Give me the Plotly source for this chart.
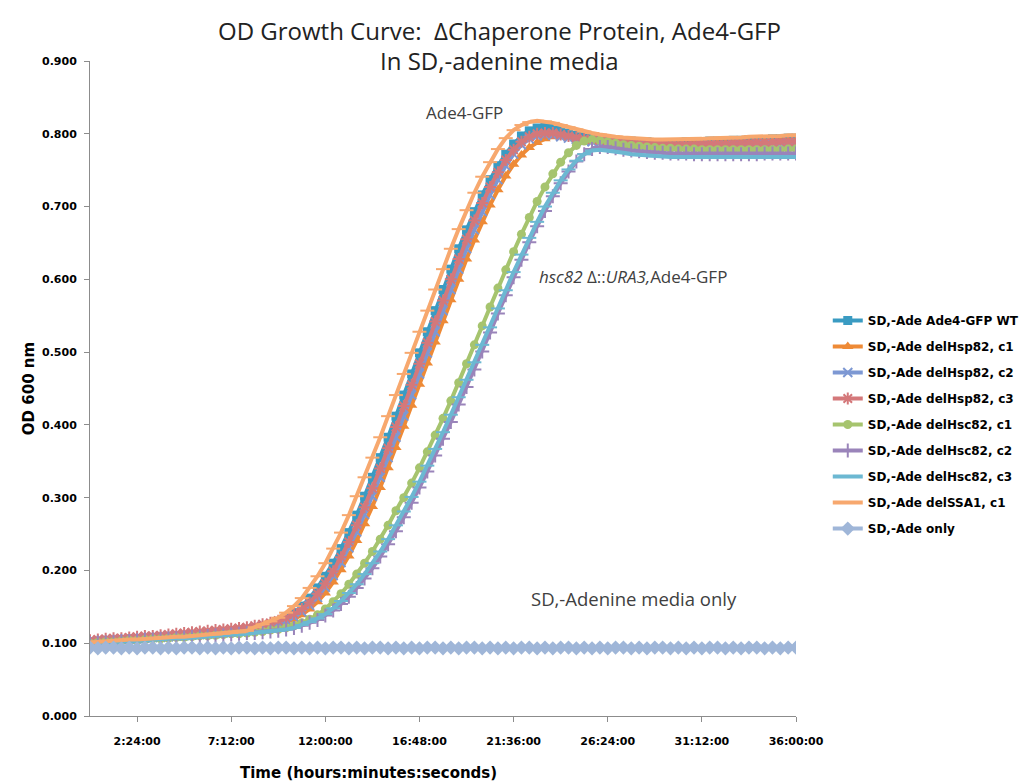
import plotly.graph_objects as go

# Sampling grid: one OD reading every 24 minutes over 36 hours
time_h = [round(0.4 * i, 1) for i in range(91)]

tick_hours = [2.4, 7.2, 12.0, 16.8, 21.6, 26.4, 31.2, 36.0]
tick_text = ["2:24:00", "7:12:00", "12:00:00", "16:48:00",
             "21:36:00", "26:24:00", "31:12:00", "36:00:00"]

od_wt = [0.102, 0.103, 0.104, 0.104, 0.105, 0.106, 0.106, 0.107, 0.108, 0.108, 0.109,
         0.110, 0.110, 0.111, 0.112, 0.113, 0.113, 0.114, 0.115, 0.116, 0.117,
         0.120, 0.123, 0.126, 0.130, 0.135, 0.142, 0.151, 0.162, 0.176, 0.192,
         0.210, 0.230, 0.252, 0.276, 0.302, 0.328, 0.355, 0.383, 0.412, 0.441,
         0.470, 0.499, 0.528, 0.557, 0.586, 0.614, 0.642, 0.668, 0.693, 0.716,
         0.737, 0.756, 0.772, 0.786, 0.797, 0.804, 0.808, 0.810, 0.808, 0.805,
         0.801, 0.798, 0.796, 0.794, 0.793, 0.792, 0.791, 0.790, 0.790, 0.789,
         0.789, 0.788, 0.788, 0.788, 0.788, 0.789, 0.789, 0.789, 0.790, 0.790,
         0.790, 0.791, 0.791, 0.792, 0.792, 0.792, 0.793, 0.793, 0.794, 0.794]

od_hsp82_c1 = [0.103, 0.104, 0.105, 0.105, 0.106, 0.107, 0.107, 0.108, 0.109, 0.110, 0.110,
               0.111, 0.112, 0.113, 0.114, 0.115, 0.116, 0.117, 0.118, 0.119, 0.120,
               0.121, 0.122, 0.124, 0.126, 0.129, 0.133, 0.139, 0.147, 0.157, 0.169,
               0.184, 0.201, 0.220, 0.241, 0.264, 0.288, 0.314, 0.341, 0.369, 0.398,
               0.427, 0.456, 0.485, 0.514, 0.543, 0.572, 0.600, 0.628, 0.654, 0.679,
               0.702, 0.723, 0.742, 0.758, 0.771, 0.781, 0.788, 0.793, 0.796, 0.796,
               0.795, 0.793, 0.791, 0.790, 0.789, 0.788, 0.787, 0.787, 0.786, 0.786,
               0.786, 0.785, 0.785, 0.785, 0.785, 0.785, 0.786, 0.786, 0.786, 0.787,
               0.787, 0.787, 0.788, 0.788, 0.788, 0.789, 0.789, 0.790, 0.790, 0.790]

od_hsp82_c2 = [0.102, 0.103, 0.104, 0.104, 0.105, 0.106, 0.106, 0.107, 0.108, 0.108, 0.109,
               0.110, 0.111, 0.112, 0.112, 0.113, 0.114, 0.115, 0.116, 0.117, 0.118,
               0.120, 0.122, 0.124, 0.127, 0.131, 0.136, 0.143, 0.152, 0.163, 0.177,
               0.193, 0.211, 0.231, 0.253, 0.277, 0.302, 0.328, 0.355, 0.383, 0.412,
               0.441, 0.470, 0.499, 0.528, 0.557, 0.586, 0.614, 0.642, 0.668, 0.693,
               0.716, 0.737, 0.756, 0.772, 0.785, 0.793, 0.797, 0.799, 0.798, 0.796,
               0.794, 0.792, 0.790, 0.789, 0.788, 0.787, 0.786, 0.785, 0.785, 0.784,
               0.784, 0.784, 0.783, 0.783, 0.783, 0.783, 0.784, 0.784, 0.784, 0.784,
               0.785, 0.785, 0.785, 0.786, 0.786, 0.786, 0.787, 0.787, 0.787, 0.788]

od_hsp82_c3 = [0.104, 0.105, 0.106, 0.107, 0.107, 0.108, 0.109, 0.110, 0.110, 0.111, 0.112,
               0.113, 0.114, 0.115, 0.116, 0.117, 0.118, 0.119, 0.120, 0.121, 0.122,
               0.124, 0.126, 0.128, 0.131, 0.135, 0.140, 0.147, 0.156, 0.168, 0.182,
               0.199, 0.218, 0.239, 0.262, 0.287, 0.313, 0.340, 0.368, 0.397, 0.426,
               0.455, 0.484, 0.513, 0.542, 0.571, 0.600, 0.628, 0.655, 0.681, 0.705,
               0.727, 0.747, 0.764, 0.778, 0.789, 0.796, 0.800, 0.801, 0.801, 0.799,
               0.797, 0.795, 0.793, 0.792, 0.791, 0.790, 0.789, 0.788, 0.787, 0.787,
               0.786, 0.786, 0.786, 0.785, 0.785, 0.785, 0.785, 0.786, 0.786, 0.786,
               0.786, 0.787, 0.787, 0.787, 0.788, 0.788, 0.788, 0.789, 0.789, 0.789]

od_hsc82_c1 = [0.100, 0.101, 0.102, 0.102, 0.103, 0.104, 0.104, 0.105, 0.106, 0.106, 0.107,
               0.108, 0.108, 0.109, 0.110, 0.110, 0.111, 0.112, 0.113, 0.113, 0.114,
               0.115, 0.116, 0.118, 0.119, 0.121, 0.124, 0.128, 0.133, 0.139, 0.147,
               0.157, 0.168, 0.181, 0.195, 0.210, 0.226, 0.243, 0.262, 0.282, 0.300,
               0.320, 0.341, 0.363, 0.386, 0.409, 0.433, 0.458, 0.484, 0.510, 0.536,
               0.562, 0.588, 0.613, 0.638, 0.662, 0.685, 0.707, 0.727, 0.745, 0.761,
               0.774, 0.784, 0.790, 0.792, 0.791, 0.789, 0.787, 0.785, 0.784, 0.783,
               0.782, 0.781, 0.780, 0.780, 0.779, 0.779, 0.779, 0.778, 0.778, 0.778,
               0.778, 0.778, 0.778, 0.778, 0.778, 0.778, 0.778, 0.778, 0.779, 0.779]

od_hsc82_c2 = [0.100, 0.101, 0.101, 0.102, 0.103, 0.103, 0.104, 0.105, 0.105, 0.106, 0.107,
               0.107, 0.108, 0.109, 0.109, 0.110, 0.111, 0.111, 0.112, 0.113, 0.114,
               0.114, 0.115, 0.116, 0.117, 0.119, 0.121, 0.124, 0.128, 0.132, 0.138,
               0.145, 0.154, 0.164, 0.176, 0.189, 0.203, 0.219, 0.236, 0.254, 0.273,
               0.293, 0.314, 0.336, 0.358, 0.381, 0.404, 0.428, 0.452, 0.476, 0.501,
               0.527, 0.553, 0.578, 0.603, 0.627, 0.651, 0.673, 0.694, 0.714, 0.732,
               0.748, 0.762, 0.772, 0.779, 0.782, 0.782, 0.780, 0.778, 0.777, 0.776,
               0.775, 0.774, 0.774, 0.773, 0.773, 0.773, 0.772, 0.772, 0.772, 0.772,
               0.772, 0.772, 0.772, 0.772, 0.772, 0.773, 0.773, 0.773, 0.773, 0.773]

od_hsc82_c3 = [0.099, 0.100, 0.101, 0.101, 0.102, 0.103, 0.103, 0.104, 0.105, 0.105, 0.106,
               0.107, 0.107, 0.108, 0.109, 0.109, 0.110, 0.111, 0.112, 0.112, 0.113,
               0.114, 0.115, 0.116, 0.117, 0.119, 0.121, 0.125, 0.129, 0.134, 0.140,
               0.148, 0.158, 0.169, 0.181, 0.195, 0.210, 0.226, 0.243, 0.262, 0.281,
               0.301, 0.322, 0.344, 0.367, 0.390, 0.414, 0.438, 0.462, 0.486, 0.510,
               0.534, 0.560, 0.585, 0.610, 0.634, 0.657, 0.679, 0.700, 0.719, 0.736,
               0.751, 0.763, 0.772, 0.777, 0.778, 0.777, 0.775, 0.774, 0.772, 0.771,
               0.770, 0.769, 0.769, 0.768, 0.768, 0.768, 0.767, 0.767, 0.767, 0.767,
               0.767, 0.767, 0.767, 0.767, 0.767, 0.768, 0.768, 0.768, 0.768, 0.768]

od_ssa1_c1 = [0.101, 0.102, 0.103, 0.103, 0.104, 0.105, 0.105, 0.106, 0.107, 0.107, 0.108,
              0.109, 0.109, 0.110, 0.111, 0.112, 0.112, 0.113, 0.114, 0.115, 0.117,
              0.122, 0.126, 0.130, 0.135, 0.142, 0.151, 0.162, 0.176, 0.192, 0.210,
              0.230, 0.252, 0.276, 0.302, 0.328, 0.355, 0.383, 0.412, 0.441, 0.470,
              0.499, 0.528, 0.557, 0.586, 0.614, 0.642, 0.669, 0.695, 0.719, 0.741,
              0.761, 0.779, 0.794, 0.805, 0.812, 0.816, 0.818, 0.817, 0.815, 0.812,
              0.809, 0.806, 0.803, 0.801, 0.799, 0.797, 0.796, 0.795, 0.794, 0.793,
              0.793, 0.792, 0.792, 0.792, 0.792, 0.793, 0.793, 0.793, 0.794, 0.794,
              0.795, 0.795, 0.795, 0.796, 0.796, 0.797, 0.797, 0.797, 0.798, 0.798]

od_media_only = [0.094, 0.093, 0.094, 0.094, 0.093, 0.094, 0.093, 0.094, 0.094, 0.093, 0.094,
                 0.093, 0.094, 0.094, 0.093, 0.094, 0.093, 0.094, 0.093, 0.094, 0.094,
                 0.093, 0.094, 0.093, 0.094, 0.094, 0.093, 0.094, 0.093, 0.094, 0.093,
                 0.094, 0.094, 0.093, 0.094, 0.093, 0.094, 0.094, 0.093, 0.094, 0.093,
                 0.094, 0.093, 0.094, 0.094, 0.093, 0.094, 0.093, 0.094, 0.094, 0.093,
                 0.094, 0.093, 0.094, 0.093, 0.094, 0.094, 0.093, 0.094, 0.093, 0.094,
                 0.094, 0.093, 0.094, 0.093, 0.094, 0.093, 0.094, 0.094, 0.093, 0.094,
                 0.093, 0.094, 0.094, 0.093, 0.094, 0.093, 0.094, 0.093, 0.094, 0.094,
                 0.093, 0.094, 0.093, 0.094, 0.094, 0.093, 0.094, 0.093, 0.094, 0.094]

# name, values, colour, marker symbol, marker size
series = [
    ("SD,-Ade Ade4-GFP WT", od_wt, "#3A9BC2", "square", 9),
    ("SD,-Ade delHsp82, c1", od_hsp82_c1, "#EE8A36", "triangle-up", 10),
    ("SD,-Ade delHsp82, c2", od_hsp82_c2, "#7D98D3", "x-thin-open", 9),
    ("SD,-Ade delHsp82, c3", od_hsp82_c3, "#D4787A", "asterisk-open", 10),
    ("SD,-Ade delHsc82, c1", od_hsc82_c1, "#A6C46E", "circle", 9),
    ("SD,-Ade delHsc82, c2", od_hsc82_c2, "#9A84BA", "cross-thin-open", 10),
    ("SD,-Ade delHsc82, c3", od_hsc82_c3, "#6CB8D2", "line-ew-open", 10),
    ("SD,-Ade delSSA1, c1", od_ssa1_c1, "#F7A86E", "line-ew-open", 10),
    ("SD,-Ade only", od_media_only, "#9FB6D8", "diamond", 11),
]

fig = go.Figure()
for k, (name, values, colour, symbol, msize) in enumerate(series):
    open_marker = symbol.endswith("-open")
    fig.add_trace(go.Scatter(
        x=time_h, y=values, name=name, mode="lines+markers",
        legendgroup=f"g{k}",
        line=dict(color=colour, width=4),
        marker=dict(symbol=symbol, size=msize, color=colour,
                    line=dict(color=colour, width=2 if open_marker else 0)),
    ))

label_font = dict(family="Open Sans, sans-serif", size=17, color="#404040")
fig.add_annotation(x=19.1, y=0.829, xref="x", yref="y", text="Ade4-GFP",
                   showarrow=False, xanchor="center", yanchor="middle", font=label_font)
fig.add_annotation(x=22.8, y=0.6045, xref="x", yref="y",
                   text="<i>hsc82</i> Δ::<i>URA3,</i>Ade4-GFP",
                   showarrow=False, xanchor="left", yanchor="middle", font=label_font)
fig.add_annotation(x=22.4, y=0.162, xref="x", yref="y", text="SD,-Adenine media only",
                   showarrow=False, xanchor="left", yanchor="middle",
                   font=dict(label_font, size=18.5))

# Two-line chart heading, centred above the plot
title_font = dict(family="Open Sans, sans-serif", size=24, color="#222222")
fig.add_annotation(x=0.5807, y=1.0473, xref="paper", yref="paper",
                   text="OD Growth Curve:  ΔChaperone Protein, Ade4-GFP",
                   showarrow=False, xanchor="center", yanchor="middle", font=title_font)
fig.add_annotation(x=0.5807, y=1.0015, xref="paper", yref="paper",
                   text="In SD,-adenine media",
                   showarrow=False, xanchor="center", yanchor="middle", font=title_font)

# Horizontal axis caption
fig.add_annotation(x=0.395, y=-0.087, xref="paper", yref="paper",
                   text="Time (hours:minutes:seconds)",
                   showarrow=False, xanchor="center", yanchor="middle",
                   font=dict(family="DejaVu Sans, sans-serif", size=15, color="#000000", weight="bold"))

bold_tick = dict(family="DejaVu Sans, sans-serif", size=11, color="#000000", weight="bold")

fig.update_layout(
    width=1026, height=784,
    paper_bgcolor="white", plot_bgcolor="white",
    margin=dict(l=90, r=230, t=61, b=68, autoexpand=False),
    showlegend=True,
    legend=dict(
        x=1.045, xanchor="left", y=0.445, yanchor="middle",
        font=dict(family="DejaVu Sans, sans-serif", size=12, color="#000000", weight="bold"),
        tracegroupgap=7, itemwidth=30, bgcolor="rgba(0,0,0,0)",
    ),
    xaxis=dict(
        range=[0, 36], tickvals=tick_hours, ticktext=tick_text,
        showgrid=False, zeroline=False,
        showline=True, linecolor="#8C8C8C", linewidth=1,
        ticks="outside", ticklen=5, tickcolor="#8C8C8C",
        ticklabelstandoff=10, tickfont=bold_tick,
    ),
    yaxis=dict(
        range=[0, 0.9], dtick=0.1, tickformat=".3f",
        showgrid=False, zeroline=False,
        showline=True, linecolor="#8C8C8C", linewidth=1,
        ticks="outside", ticklen=5, tickcolor="#8C8C8C",
        ticklabelstandoff=5, tickfont=bold_tick,
        title=dict(text="OD 600 nm", standoff=3,
                   font=dict(family="DejaVu Sans, sans-serif", size=15, color="#000000", weight="bold")),
    ),
)

fig.write_html("out.html")
